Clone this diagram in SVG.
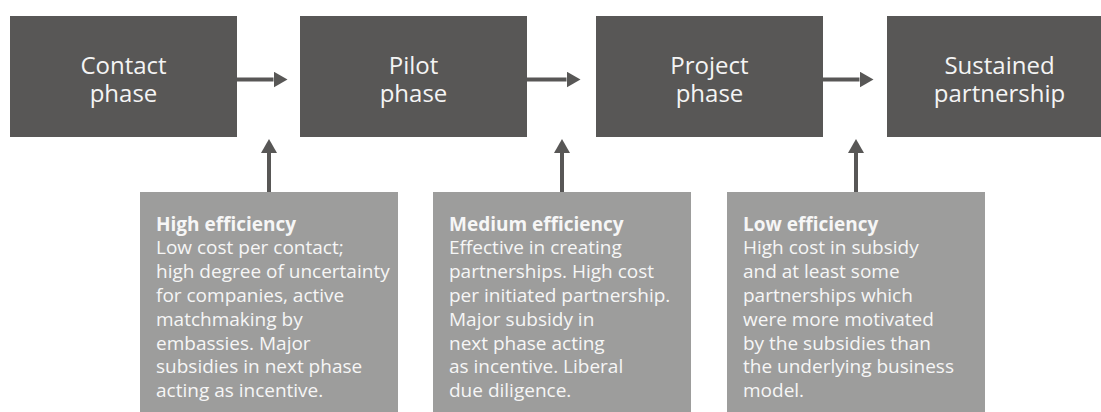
<svg xmlns="http://www.w3.org/2000/svg" width="1101" height="412" viewBox="0 0 1101 412">
<style>
.phase rect{fill:#585756}
.phase text{font-family:"Open Sans","Noto Sans",sans-serif;font-size:24px;fill:#f4f4f4;text-anchor:middle}
.note rect{fill:#9d9d9c}
.note text{font-family:"Open Sans","Noto Sans",sans-serif;font-size:19px;fill:#f6f6f6}
.note .h{font-weight:bold}
.conn line{stroke:#585756;stroke-width:4}
</style>
<defs>
<marker id="ah" viewBox="0 0 14 16" refX="0" refY="8" markerWidth="14" markerHeight="16" markerUnits="userSpaceOnUse" orient="auto">
<path d="M0,0 L14,8 L0,16 Z" fill="#585756"/>
</marker>
</defs>
<rect width="1101" height="412" fill="#ffffff"/>
<g id="contact" class="phase">
<rect x="10" y="16" width="227" height="121"/>
<text x="123.5" y="73.5">Contact<tspan x="123.5" dy="28.2">phase</tspan></text>
</g>
<g id="pilot" class="phase">
<rect x="300" y="16" width="227" height="121"/>
<text x="413.5" y="73.5">Pilot<tspan x="413.5" dy="28.2">phase</tspan></text>
</g>
<g id="project" class="phase">
<rect x="596" y="16" width="227" height="121"/>
<text x="709.5" y="73.5">Project<tspan x="709.5" dy="28.2">phase</tspan></text>
</g>
<g id="sustained" class="phase">
<rect x="887" y="16" width="227" height="121"/>
<text x="999.5" y="73.5">Sustained<tspan x="999.5" dy="28.2">partnership</tspan></text>
</g>
<g id="high" class="note">
<rect x="140" y="192" width="258" height="225"/>
<text x="156" y="230.5"><tspan class="h">High efficiency</tspan>
<tspan x="156" dy="23.8">Low cost per contact;</tspan>
<tspan x="156" dy="23.8">high degree of uncertainty</tspan>
<tspan x="156" dy="23.8">for companies, active</tspan>
<tspan x="156" dy="23.8">matchmaking by</tspan>
<tspan x="156" dy="23.8">embassies. Major</tspan>
<tspan x="156" dy="23.8">subsidies in next phase</tspan>
<tspan x="156" dy="23.8">acting as incentive.</tspan></text>
</g>
<g id="medium" class="note">
<rect x="433" y="192" width="258" height="225"/>
<text x="449" y="230.5"><tspan class="h">Medium efficiency</tspan>
<tspan x="449" dy="23.8">Effective in creating</tspan>
<tspan x="449" dy="23.8">partnerships. High cost</tspan>
<tspan x="449" dy="23.8">per initiated partnership.</tspan>
<tspan x="449" dy="23.8">Major subsidy in</tspan>
<tspan x="449" dy="23.8">next phase acting</tspan>
<tspan x="449" dy="23.8">as incentive. Liberal</tspan>
<tspan x="449" dy="23.8">due diligence.</tspan></text>
</g>
<g id="low" class="note">
<rect x="727" y="192" width="258" height="225"/>
<text x="743" y="230.5"><tspan class="h">Low efficiency</tspan>
<tspan x="743" dy="23.8">High cost in subsidy</tspan>
<tspan x="743" dy="23.8">and at least some</tspan>
<tspan x="743" dy="23.8">partnerships which</tspan>
<tspan x="743" dy="23.8">were more motivated</tspan>
<tspan x="743" dy="23.8">by the subsidies than</tspan>
<tspan x="743" dy="23.8">the underlying business</tspan>
<tspan x="743" dy="23.8">model.</tspan></text>
</g>
<g id="connectors" class="conn">
<line x1="237" y1="79.5" x2="273.5" y2="79.5" marker-end="url(#ah)"/>
<line x1="527" y1="79.5" x2="566.5" y2="79.5" marker-end="url(#ah)"/>
<line x1="823" y1="79.5" x2="859.5" y2="79.5" marker-end="url(#ah)"/>
<line x1="269" y1="192" x2="269" y2="153" marker-end="url(#ah)"/>
<line x1="562" y1="192" x2="562" y2="153" marker-end="url(#ah)"/>
<line x1="856" y1="192" x2="856" y2="153" marker-end="url(#ah)"/>
</g>
</svg>
